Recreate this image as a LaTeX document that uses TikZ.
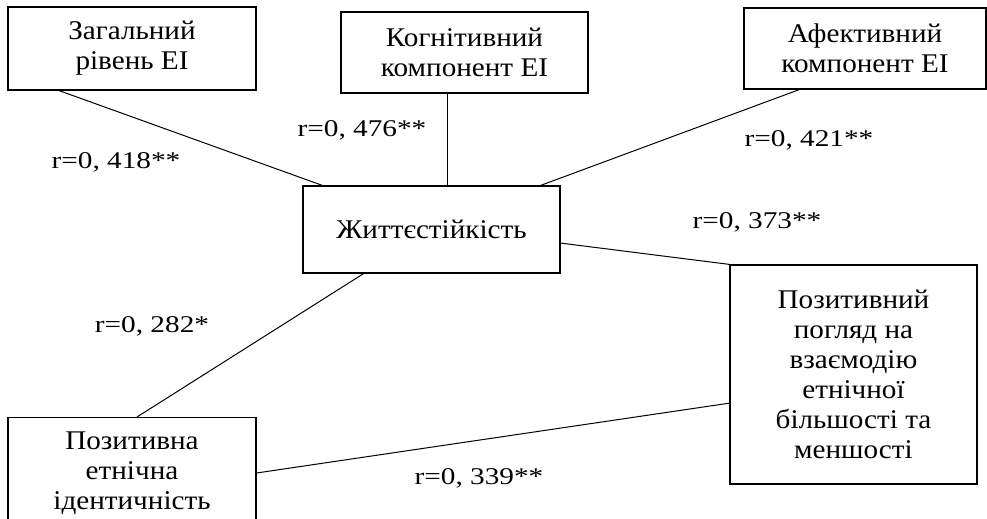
\documentclass[tikz,border=0pt]{standalone}
\usepackage{fontspec}
\setmainfont{Liberation Serif}[FakeStretch=1.08]
\newfontfamily\corrfont{Liberation Serif}[FakeStretch=1.22]
\usetikzlibrary{calc}

\begin{document}
\begin{tikzpicture}[x=0.5pt, y=-0.5pt,
    block/.style={draw, semithick, align=center, font=\fontsize{13.5}{15}\selectfont},
    link/.style={line width=0.5pt},
    corr/.style={font=\corrfont\fontsize{12}{13}\selectfont}]

  \def\u{0.5pt}
  \useasboundingbox (0,0) rectangle (987,519);
  \clip (0,0) rectangle (987,519);

  %boxes
  \node[block, minimum width=248*\u, minimum height=83*\u] (gen) at (132,48.5) {Загальний\\рівень EI};
  \node[block, minimum width=247*\u, minimum height=81*\u] (cog) at (464.5,52.5) {Когнітивний\\компонент EI};
  \node[block, minimum width=242*\u, minimum height=81*\u] (aff) at (865,48.5) {Афективний\\компонент EI};
  \node[block, minimum width=257*\u, minimum height=87*\u] (res) at (431.5,229.5) {Життєстійкість};
  \node[block, minimum width=247*\u, minimum height=219*\u] (view) at (853.5,374.5)
       {Позитивний\\погляд на\\взаємодію\\етнічної\\більшості та\\меншості};
  \node[block, anchor=north, minimum width=248*\u, inner ysep=7pt, text depth=50pt] (ident) at (132,417)
       {Позитивна\\етнічна\\ідентичність};

  %links
  \draw[link] (gen.210) -- (res.158);
  \draw[link] (res.70.4) -- (res.70.4 |- cog.south);
  \draw[link] (aff.212.7) -- (res.22.4);
  \draw[link] (res.-6.9) -- (view.north west);
  \draw[link] ($(ident.north)+(5,0)$) -- (res.213.2);
  \draw[link] ($(ident.north east)+(0,56)$) -- (view.193.4);

  %correlations
  \foreach \cx/\cy/\val/\name in {116/162/{r=0, 418**}/r1, 362/130/{r=0, 476**}/r2,
        809/140/{r=0, 421**}/r3, 757/222/{r=0, 373**}/r4,
        152/326/{r=0, 282*}/r5, 479/478/{r=0, 339**}/r6}{
     \node[corr] (\name) at (\cx,\cy) {\val};
  }

\end{tikzpicture}
\end{document}
